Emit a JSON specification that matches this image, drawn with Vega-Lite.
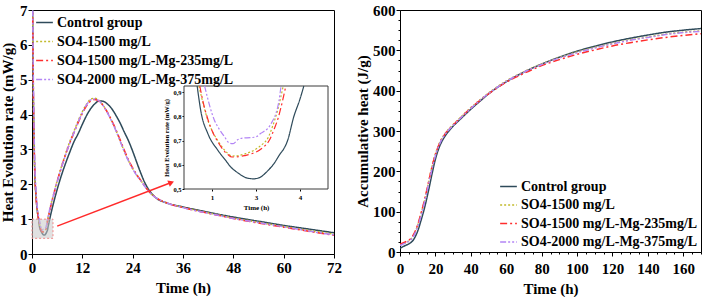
{
  "$schema": "https://vega.github.io/schema/vega-lite/v6.json",
  "padding": {"left": 0, "top": 2, "right": 0, "bottom": 0},
  "config": {
    "font": "Liberation Serif",
    "view": {"stroke": "black", "strokeWidth": 1},
    "axis": {
      "labelFont": "Liberation Serif", "titleFont": "Liberation Serif",
      "labelFontWeight": "bold", "titleFontWeight": "bold",
      "labelFontSize": 15, "titleFontSize": 15,
      "labelColor": "black", "titleColor": "black",
      "domainColor": "black", "tickColor": "black", "grid": false
    },
    "legend": {
      "labelFont": "Liberation Serif", "labelFontWeight": "bold", "labelFontSize": 14,
      "labelColor": "black", "labelLimit": 400, "symbolType": "stroke", "symbolSize": 280,
      "symbolStrokeWidth": 1.5, "rowPadding": 2, "labelOffset": 3, "padding": 0
    }
  },
  "datasets": {
    "rate": [
      {"s":"Control group","t":0,"v":9.5},{"s":"Control group","t":0.3,"v":4.8},{"s":"Control group","t":0.6,"v":2.6},{"s":"Control group","t":1.0,"v":1.6},{"s":"Control group","t":1.3,"v":1.2},{"s":"Control group","t":1.5,"v":1.05},{"s":"Control group","t":1.66,"v":0.925},{"s":"Control group","t":1.75,"v":0.815},{"s":"Control group","t":1.9,"v":0.73},{"s":"Control group","t":2.13,"v":0.66},{"s":"Control group","t":2.3,"v":0.62},{"s":"Control group","t":2.43,"v":0.59},{"s":"Control group","t":2.6,"v":0.565},{"s":"Control group","t":2.8,"v":0.545},{"s":"Control group","t":2.95,"v":0.542},{"s":"Control group","t":3.11,"v":0.55},{"s":"Control group","t":3.25,"v":0.572},{"s":"Control group","t":3.41,"v":0.605},{"s":"Control group","t":3.55,"v":0.645},{"s":"Control group","t":3.64,"v":0.668},{"s":"Control group","t":3.72,"v":0.7},{"s":"Control group","t":3.86,"v":0.798},{"s":"Control group","t":4.0,"v":0.87},{"s":"Control group","t":4.09,"v":0.925},{"s":"Control group","t":4.5,"v":1.15},{"s":"Control group","t":5,"v":1.4},{"s":"Control group","t":6,"v":1.85},{"s":"Control group","t":7,"v":2.25},{"s":"Control group","t":8,"v":2.6},{"s":"Control group","t":9,"v":2.92},{"s":"Control group","t":10,"v":3.22},{"s":"Control group","t":11,"v":3.45},{"s":"Control group","t":12,"v":3.72},{"s":"Control group","t":13,"v":3.97},{"s":"Control group","t":14,"v":4.17},{"s":"Control group","t":15,"v":4.31},{"s":"Control group","t":16,"v":4.39},{"s":"Control group","t":17,"v":4.38},{"s":"Control group","t":18,"v":4.3},{"s":"Control group","t":19,"v":4.17},{"s":"Control group","t":20,"v":3.98},{"s":"Control group","t":21,"v":3.76},{"s":"Control group","t":22,"v":3.5},{"s":"Control group","t":23,"v":3.25},{"s":"Control group","t":24,"v":2.95},{"s":"Control group","t":25,"v":2.62},{"s":"Control group","t":26,"v":2.3},{"s":"Control group","t":27,"v":2.02},{"s":"Control group","t":28,"v":1.82},{"s":"Control group","t":29,"v":1.67},{"s":"Control group","t":30,"v":1.57},{"s":"Control group","t":32,"v":1.47},{"s":"Control group","t":36,"v":1.35},{"s":"Control group","t":40,"v":1.25},{"s":"Control group","t":44,"v":1.15},{"s":"Control group","t":48,"v":1.06},{"s":"Control group","t":52,"v":0.98},{"s":"Control group","t":56,"v":0.9},{"s":"Control group","t":60,"v":0.82},{"s":"Control group","t":64,"v":0.75},{"s":"Control group","t":68,"v":0.68},{"s":"Control group","t":72,"v":0.61},
      {"s":"SO4-1500 mg/L","t":0,"v":9.0},{"s":"SO4-1500 mg/L","t":0.3,"v":4.6},{"s":"SO4-1500 mg/L","t":0.6,"v":2.5},{"s":"SO4-1500 mg/L","t":1.0,"v":1.55},{"s":"SO4-1500 mg/L","t":1.3,"v":1.2},{"s":"SO4-1500 mg/L","t":1.5,"v":1.04},{"s":"SO4-1500 mg/L","t":1.7,"v":0.925},{"s":"SO4-1500 mg/L","t":1.8,"v":0.85},{"s":"SO4-1500 mg/L","t":1.9,"v":0.785},{"s":"SO4-1500 mg/L","t":2.0,"v":0.74},{"s":"SO4-1500 mg/L","t":2.13,"v":0.7},{"s":"SO4-1500 mg/L","t":2.25,"v":0.668},{"s":"SO4-1500 mg/L","t":2.36,"v":0.647},{"s":"SO4-1500 mg/L","t":2.45,"v":0.636},{"s":"SO4-1500 mg/L","t":2.6,"v":0.638},{"s":"SO4-1500 mg/L","t":2.75,"v":0.645},{"s":"SO4-1500 mg/L","t":2.89,"v":0.654},{"s":"SO4-1500 mg/L","t":3.0,"v":0.665},{"s":"SO4-1500 mg/L","t":3.15,"v":0.685},{"s":"SO4-1500 mg/L","t":3.27,"v":0.71},{"s":"SO4-1500 mg/L","t":3.38,"v":0.76},{"s":"SO4-1500 mg/L","t":3.5,"v":0.83},{"s":"SO4-1500 mg/L","t":3.62,"v":0.925},{"s":"SO4-1500 mg/L","t":3.7,"v":0.97},{"s":"SO4-1500 mg/L","t":4.0,"v":1.15},{"s":"SO4-1500 mg/L","t":4.5,"v":1.42},{"s":"SO4-1500 mg/L","t":5,"v":1.65},{"s":"SO4-1500 mg/L","t":6,"v":2.1},{"s":"SO4-1500 mg/L","t":7,"v":2.5},{"s":"SO4-1500 mg/L","t":8,"v":2.88},{"s":"SO4-1500 mg/L","t":9,"v":3.22},{"s":"SO4-1500 mg/L","t":10,"v":3.52},{"s":"SO4-1500 mg/L","t":11,"v":3.82},{"s":"SO4-1500 mg/L","t":12,"v":4.08},{"s":"SO4-1500 mg/L","t":13,"v":4.3},{"s":"SO4-1500 mg/L","t":14,"v":4.44},{"s":"SO4-1500 mg/L","t":15,"v":4.47},{"s":"SO4-1500 mg/L","t":16,"v":4.4},{"s":"SO4-1500 mg/L","t":17,"v":4.26},{"s":"SO4-1500 mg/L","t":18,"v":4.06},{"s":"SO4-1500 mg/L","t":19,"v":3.82},{"s":"SO4-1500 mg/L","t":20,"v":3.55},{"s":"SO4-1500 mg/L","t":21,"v":3.25},{"s":"SO4-1500 mg/L","t":22,"v":2.95},{"s":"SO4-1500 mg/L","t":23,"v":2.68},{"s":"SO4-1500 mg/L","t":24,"v":2.45},{"s":"SO4-1500 mg/L","t":25,"v":2.26},{"s":"SO4-1500 mg/L","t":26,"v":2.1},{"s":"SO4-1500 mg/L","t":27,"v":1.93},{"s":"SO4-1500 mg/L","t":28,"v":1.78},{"s":"SO4-1500 mg/L","t":29,"v":1.66},{"s":"SO4-1500 mg/L","t":30,"v":1.58},{"s":"SO4-1500 mg/L","t":32,"v":1.47},{"s":"SO4-1500 mg/L","t":36,"v":1.34},{"s":"SO4-1500 mg/L","t":40,"v":1.23},{"s":"SO4-1500 mg/L","t":44,"v":1.13},{"s":"SO4-1500 mg/L","t":48,"v":1.03},{"s":"SO4-1500 mg/L","t":52,"v":0.95},{"s":"SO4-1500 mg/L","t":56,"v":0.87},{"s":"SO4-1500 mg/L","t":60,"v":0.79},{"s":"SO4-1500 mg/L","t":64,"v":0.71},{"s":"SO4-1500 mg/L","t":68,"v":0.64},{"s":"SO4-1500 mg/L","t":72,"v":0.57},
      {"s":"SO4-1500 mg/L-Mg-235mg/L","t":0,"v":9.8},{"s":"SO4-1500 mg/L-Mg-235mg/L","t":0.3,"v":5.0},{"s":"SO4-1500 mg/L-Mg-235mg/L","t":0.6,"v":2.7},{"s":"SO4-1500 mg/L-Mg-235mg/L","t":1.0,"v":1.6},{"s":"SO4-1500 mg/L-Mg-235mg/L","t":1.3,"v":1.22},{"s":"SO4-1500 mg/L-Mg-235mg/L","t":1.5,"v":1.05},{"s":"SO4-1500 mg/L-Mg-235mg/L","t":1.72,"v":0.925},{"s":"SO4-1500 mg/L-Mg-235mg/L","t":1.8,"v":0.855},{"s":"SO4-1500 mg/L-Mg-235mg/L","t":1.9,"v":0.79},{"s":"SO4-1500 mg/L-Mg-235mg/L","t":2.0,"v":0.74},{"s":"SO4-1500 mg/L-Mg-235mg/L","t":2.13,"v":0.695},{"s":"SO4-1500 mg/L-Mg-235mg/L","t":2.25,"v":0.662},{"s":"SO4-1500 mg/L-Mg-235mg/L","t":2.36,"v":0.642},{"s":"SO4-1500 mg/L-Mg-235mg/L","t":2.45,"v":0.632},{"s":"SO4-1500 mg/L-Mg-235mg/L","t":2.6,"v":0.633},{"s":"SO4-1500 mg/L-Mg-235mg/L","t":2.75,"v":0.638},{"s":"SO4-1500 mg/L-Mg-235mg/L","t":2.89,"v":0.645},{"s":"SO4-1500 mg/L-Mg-235mg/L","t":3.0,"v":0.652},{"s":"SO4-1500 mg/L-Mg-235mg/L","t":3.15,"v":0.67},{"s":"SO4-1500 mg/L-Mg-235mg/L","t":3.3,"v":0.7},{"s":"SO4-1500 mg/L-Mg-235mg/L","t":3.42,"v":0.75},{"s":"SO4-1500 mg/L-Mg-235mg/L","t":3.5,"v":0.79},{"s":"SO4-1500 mg/L-Mg-235mg/L","t":3.6,"v":0.86},{"s":"SO4-1500 mg/L-Mg-235mg/L","t":3.68,"v":0.925},{"s":"SO4-1500 mg/L-Mg-235mg/L","t":4.0,"v":1.1},{"s":"SO4-1500 mg/L-Mg-235mg/L","t":4.5,"v":1.38},{"s":"SO4-1500 mg/L-Mg-235mg/L","t":5,"v":1.62},{"s":"SO4-1500 mg/L-Mg-235mg/L","t":6,"v":2.08},{"s":"SO4-1500 mg/L-Mg-235mg/L","t":7,"v":2.48},{"s":"SO4-1500 mg/L-Mg-235mg/L","t":8,"v":2.85},{"s":"SO4-1500 mg/L-Mg-235mg/L","t":9,"v":3.18},{"s":"SO4-1500 mg/L-Mg-235mg/L","t":10,"v":3.48},{"s":"SO4-1500 mg/L-Mg-235mg/L","t":11,"v":3.77},{"s":"SO4-1500 mg/L-Mg-235mg/L","t":12,"v":4.03},{"s":"SO4-1500 mg/L-Mg-235mg/L","t":13,"v":4.25},{"s":"SO4-1500 mg/L-Mg-235mg/L","t":14,"v":4.39},{"s":"SO4-1500 mg/L-Mg-235mg/L","t":15,"v":4.43},{"s":"SO4-1500 mg/L-Mg-235mg/L","t":16,"v":4.38},{"s":"SO4-1500 mg/L-Mg-235mg/L","t":17,"v":4.25},{"s":"SO4-1500 mg/L-Mg-235mg/L","t":18,"v":4.06},{"s":"SO4-1500 mg/L-Mg-235mg/L","t":19,"v":3.83},{"s":"SO4-1500 mg/L-Mg-235mg/L","t":20,"v":3.57},{"s":"SO4-1500 mg/L-Mg-235mg/L","t":21,"v":3.28},{"s":"SO4-1500 mg/L-Mg-235mg/L","t":22,"v":2.98},{"s":"SO4-1500 mg/L-Mg-235mg/L","t":23,"v":2.7},{"s":"SO4-1500 mg/L-Mg-235mg/L","t":24,"v":2.47},{"s":"SO4-1500 mg/L-Mg-235mg/L","t":25,"v":2.27},{"s":"SO4-1500 mg/L-Mg-235mg/L","t":26,"v":2.1},{"s":"SO4-1500 mg/L-Mg-235mg/L","t":27,"v":1.93},{"s":"SO4-1500 mg/L-Mg-235mg/L","t":28,"v":1.78},{"s":"SO4-1500 mg/L-Mg-235mg/L","t":29,"v":1.67},{"s":"SO4-1500 mg/L-Mg-235mg/L","t":30,"v":1.58},{"s":"SO4-1500 mg/L-Mg-235mg/L","t":32,"v":1.47},{"s":"SO4-1500 mg/L-Mg-235mg/L","t":36,"v":1.33},{"s":"SO4-1500 mg/L-Mg-235mg/L","t":40,"v":1.22},{"s":"SO4-1500 mg/L-Mg-235mg/L","t":44,"v":1.12},{"s":"SO4-1500 mg/L-Mg-235mg/L","t":48,"v":1.02},{"s":"SO4-1500 mg/L-Mg-235mg/L","t":52,"v":0.93},{"s":"SO4-1500 mg/L-Mg-235mg/L","t":56,"v":0.85},{"s":"SO4-1500 mg/L-Mg-235mg/L","t":60,"v":0.77},{"s":"SO4-1500 mg/L-Mg-235mg/L","t":64,"v":0.69},{"s":"SO4-1500 mg/L-Mg-235mg/L","t":68,"v":0.61},{"s":"SO4-1500 mg/L-Mg-235mg/L","t":72,"v":0.54},
      {"s":"SO4-2000 mg/L-Mg-375mg/L","t":0,"v":10.2},{"s":"SO4-2000 mg/L-Mg-375mg/L","t":0.3,"v":5.3},{"s":"SO4-2000 mg/L-Mg-375mg/L","t":0.6,"v":2.9},{"s":"SO4-2000 mg/L-Mg-375mg/L","t":1.0,"v":1.75},{"s":"SO4-2000 mg/L-Mg-375mg/L","t":1.3,"v":1.3},{"s":"SO4-2000 mg/L-Mg-375mg/L","t":1.5,"v":1.12},{"s":"SO4-2000 mg/L-Mg-375mg/L","t":1.7,"v":1.0},{"s":"SO4-2000 mg/L-Mg-375mg/L","t":1.83,"v":0.925},{"s":"SO4-2000 mg/L-Mg-375mg/L","t":1.95,"v":0.84},{"s":"SO4-2000 mg/L-Mg-375mg/L","t":2.05,"v":0.785},{"s":"SO4-2000 mg/L-Mg-375mg/L","t":2.17,"v":0.745},{"s":"SO4-2000 mg/L-Mg-375mg/L","t":2.28,"v":0.716},{"s":"SO4-2000 mg/L-Mg-375mg/L","t":2.39,"v":0.69},{"s":"SO4-2000 mg/L-Mg-375mg/L","t":2.48,"v":0.687},{"s":"SO4-2000 mg/L-Mg-375mg/L","t":2.58,"v":0.703},{"s":"SO4-2000 mg/L-Mg-375mg/L","t":2.7,"v":0.71},{"s":"SO4-2000 mg/L-Mg-375mg/L","t":2.89,"v":0.712},{"s":"SO4-2000 mg/L-Mg-375mg/L","t":3.0,"v":0.715},{"s":"SO4-2000 mg/L-Mg-375mg/L","t":3.11,"v":0.73},{"s":"SO4-2000 mg/L-Mg-375mg/L","t":3.2,"v":0.74},{"s":"SO4-2000 mg/L-Mg-375mg/L","t":3.27,"v":0.75},{"s":"SO4-2000 mg/L-Mg-375mg/L","t":3.36,"v":0.775},{"s":"SO4-2000 mg/L-Mg-375mg/L","t":3.45,"v":0.81},{"s":"SO4-2000 mg/L-Mg-375mg/L","t":3.52,"v":0.86},{"s":"SO4-2000 mg/L-Mg-375mg/L","t":3.57,"v":0.925},{"s":"SO4-2000 mg/L-Mg-375mg/L","t":3.7,"v":1.0},{"s":"SO4-2000 mg/L-Mg-375mg/L","t":4.0,"v":1.16},{"s":"SO4-2000 mg/L-Mg-375mg/L","t":4.5,"v":1.42},{"s":"SO4-2000 mg/L-Mg-375mg/L","t":5,"v":1.64},{"s":"SO4-2000 mg/L-Mg-375mg/L","t":6,"v":2.07},{"s":"SO4-2000 mg/L-Mg-375mg/L","t":7,"v":2.47},{"s":"SO4-2000 mg/L-Mg-375mg/L","t":8,"v":2.84},{"s":"SO4-2000 mg/L-Mg-375mg/L","t":9,"v":3.18},{"s":"SO4-2000 mg/L-Mg-375mg/L","t":10,"v":3.48},{"s":"SO4-2000 mg/L-Mg-375mg/L","t":11,"v":3.78},{"s":"SO4-2000 mg/L-Mg-375mg/L","t":12,"v":4.05},{"s":"SO4-2000 mg/L-Mg-375mg/L","t":13,"v":4.28},{"s":"SO4-2000 mg/L-Mg-375mg/L","t":14,"v":4.42},{"s":"SO4-2000 mg/L-Mg-375mg/L","t":15,"v":4.45},{"s":"SO4-2000 mg/L-Mg-375mg/L","t":16,"v":4.39},{"s":"SO4-2000 mg/L-Mg-375mg/L","t":17,"v":4.25},{"s":"SO4-2000 mg/L-Mg-375mg/L","t":18,"v":4.05},{"s":"SO4-2000 mg/L-Mg-375mg/L","t":19,"v":3.81},{"s":"SO4-2000 mg/L-Mg-375mg/L","t":20,"v":3.54},{"s":"SO4-2000 mg/L-Mg-375mg/L","t":21,"v":3.24},{"s":"SO4-2000 mg/L-Mg-375mg/L","t":22,"v":2.94},{"s":"SO4-2000 mg/L-Mg-375mg/L","t":23,"v":2.67},{"s":"SO4-2000 mg/L-Mg-375mg/L","t":24,"v":2.44},{"s":"SO4-2000 mg/L-Mg-375mg/L","t":25,"v":2.25},{"s":"SO4-2000 mg/L-Mg-375mg/L","t":26,"v":2.09},{"s":"SO4-2000 mg/L-Mg-375mg/L","t":27,"v":1.92},{"s":"SO4-2000 mg/L-Mg-375mg/L","t":28,"v":1.77},{"s":"SO4-2000 mg/L-Mg-375mg/L","t":29,"v":1.66},{"s":"SO4-2000 mg/L-Mg-375mg/L","t":30,"v":1.58},{"s":"SO4-2000 mg/L-Mg-375mg/L","t":32,"v":1.47},{"s":"SO4-2000 mg/L-Mg-375mg/L","t":36,"v":1.33},{"s":"SO4-2000 mg/L-Mg-375mg/L","t":40,"v":1.22},{"s":"SO4-2000 mg/L-Mg-375mg/L","t":44,"v":1.12},{"s":"SO4-2000 mg/L-Mg-375mg/L","t":48,"v":1.02},{"s":"SO4-2000 mg/L-Mg-375mg/L","t":52,"v":0.94},{"s":"SO4-2000 mg/L-Mg-375mg/L","t":56,"v":0.86},{"s":"SO4-2000 mg/L-Mg-375mg/L","t":60,"v":0.78},{"s":"SO4-2000 mg/L-Mg-375mg/L","t":64,"v":0.7},{"s":"SO4-2000 mg/L-Mg-375mg/L","t":68,"v":0.62},{"s":"SO4-2000 mg/L-Mg-375mg/L","t":72,"v":0.55}
    ],
    "heat": [
      {"s":"Control group","t":0,"q":9},{"s":"Control group","t":2,"q":14},{"s":"Control group","t":4,"q":18},{"s":"Control group","t":6,"q":23},{"s":"Control group","t":8,"q":33},{"s":"Control group","t":10,"q":52},{"s":"Control group","t":12,"q":80},{"s":"Control group","t":14,"q":112},{"s":"Control group","t":16,"q":150},{"s":"Control group","t":18,"q":192},{"s":"Control group","t":20,"q":230},{"s":"Control group","t":22,"q":258},{"s":"Control group","t":24,"q":277},{"s":"Control group","t":26,"q":291},{"s":"Control group","t":28,"q":302},{"s":"Control group","t":30,"q":312},{"s":"Control group","t":34,"q":329},{"s":"Control group","t":40,"q":354},{"s":"Control group","t":46,"q":377},{"s":"Control group","t":50,"q":392},{"s":"Control group","t":60,"q":422},{"s":"Control group","t":70,"q":446},{"s":"Control group","t":80,"q":466},{"s":"Control group","t":90,"q":483},{"s":"Control group","t":100,"q":498},{"s":"Control group","t":110,"q":510},{"s":"Control group","t":120,"q":521},{"s":"Control group","t":130,"q":530},{"s":"Control group","t":140,"q":538},{"s":"Control group","t":150,"q":545},{"s":"Control group","t":160,"q":550},{"s":"Control group","t":170,"q":554},
      {"s":"SO4-1500 mg/L","t":0,"q":17},{"s":"SO4-1500 mg/L","t":2,"q":21},{"s":"SO4-1500 mg/L","t":4,"q":25},{"s":"SO4-1500 mg/L","t":6,"q":31},{"s":"SO4-1500 mg/L","t":8,"q":44},{"s":"SO4-1500 mg/L","t":10,"q":66},{"s":"SO4-1500 mg/L","t":12,"q":96},{"s":"SO4-1500 mg/L","t":14,"q":130},{"s":"SO4-1500 mg/L","t":16,"q":170},{"s":"SO4-1500 mg/L","t":18,"q":210},{"s":"SO4-1500 mg/L","t":20,"q":243},{"s":"SO4-1500 mg/L","t":22,"q":267},{"s":"SO4-1500 mg/L","t":24,"q":284},{"s":"SO4-1500 mg/L","t":26,"q":297},{"s":"SO4-1500 mg/L","t":28,"q":307},{"s":"SO4-1500 mg/L","t":30,"q":316},{"s":"SO4-1500 mg/L","t":34,"q":333},{"s":"SO4-1500 mg/L","t":40,"q":358},{"s":"SO4-1500 mg/L","t":46,"q":380},{"s":"SO4-1500 mg/L","t":50,"q":394},{"s":"SO4-1500 mg/L","t":60,"q":424},{"s":"SO4-1500 mg/L","t":70,"q":447},{"s":"SO4-1500 mg/L","t":80,"q":466},{"s":"SO4-1500 mg/L","t":90,"q":482},{"s":"SO4-1500 mg/L","t":100,"q":496},{"s":"SO4-1500 mg/L","t":110,"q":507},{"s":"SO4-1500 mg/L","t":120,"q":517},{"s":"SO4-1500 mg/L","t":130,"q":526},{"s":"SO4-1500 mg/L","t":140,"q":533},{"s":"SO4-1500 mg/L","t":150,"q":540},{"s":"SO4-1500 mg/L","t":160,"q":545},{"s":"SO4-1500 mg/L","t":170,"q":548},
      {"s":"SO4-1500 mg/L-Mg-235mg/L","t":0,"q":19},{"s":"SO4-1500 mg/L-Mg-235mg/L","t":2,"q":23},{"s":"SO4-1500 mg/L-Mg-235mg/L","t":4,"q":27},{"s":"SO4-1500 mg/L-Mg-235mg/L","t":6,"q":33},{"s":"SO4-1500 mg/L-Mg-235mg/L","t":8,"q":46},{"s":"SO4-1500 mg/L-Mg-235mg/L","t":10,"q":68},{"s":"SO4-1500 mg/L-Mg-235mg/L","t":12,"q":98},{"s":"SO4-1500 mg/L-Mg-235mg/L","t":14,"q":132},{"s":"SO4-1500 mg/L-Mg-235mg/L","t":16,"q":171},{"s":"SO4-1500 mg/L-Mg-235mg/L","t":18,"q":210},{"s":"SO4-1500 mg/L-Mg-235mg/L","t":20,"q":242},{"s":"SO4-1500 mg/L-Mg-235mg/L","t":22,"q":266},{"s":"SO4-1500 mg/L-Mg-235mg/L","t":24,"q":283},{"s":"SO4-1500 mg/L-Mg-235mg/L","t":26,"q":296},{"s":"SO4-1500 mg/L-Mg-235mg/L","t":28,"q":306},{"s":"SO4-1500 mg/L-Mg-235mg/L","t":30,"q":315},{"s":"SO4-1500 mg/L-Mg-235mg/L","t":34,"q":332},{"s":"SO4-1500 mg/L-Mg-235mg/L","t":40,"q":357},{"s":"SO4-1500 mg/L-Mg-235mg/L","t":46,"q":379},{"s":"SO4-1500 mg/L-Mg-235mg/L","t":50,"q":392},{"s":"SO4-1500 mg/L-Mg-235mg/L","t":60,"q":421},{"s":"SO4-1500 mg/L-Mg-235mg/L","t":70,"q":443},{"s":"SO4-1500 mg/L-Mg-235mg/L","t":80,"q":462},{"s":"SO4-1500 mg/L-Mg-235mg/L","t":90,"q":477},{"s":"SO4-1500 mg/L-Mg-235mg/L","t":100,"q":490},{"s":"SO4-1500 mg/L-Mg-235mg/L","t":110,"q":501},{"s":"SO4-1500 mg/L-Mg-235mg/L","t":120,"q":511},{"s":"SO4-1500 mg/L-Mg-235mg/L","t":130,"q":519},{"s":"SO4-1500 mg/L-Mg-235mg/L","t":140,"q":526},{"s":"SO4-1500 mg/L-Mg-235mg/L","t":150,"q":532},{"s":"SO4-1500 mg/L-Mg-235mg/L","t":160,"q":537},{"s":"SO4-1500 mg/L-Mg-235mg/L","t":170,"q":541},
      {"s":"SO4-2000 mg/L-Mg-375mg/L","t":0,"q":16},{"s":"SO4-2000 mg/L-Mg-375mg/L","t":2,"q":20},{"s":"SO4-2000 mg/L-Mg-375mg/L","t":4,"q":24},{"s":"SO4-2000 mg/L-Mg-375mg/L","t":6,"q":30},{"s":"SO4-2000 mg/L-Mg-375mg/L","t":8,"q":42},{"s":"SO4-2000 mg/L-Mg-375mg/L","t":10,"q":63},{"s":"SO4-2000 mg/L-Mg-375mg/L","t":12,"q":92},{"s":"SO4-2000 mg/L-Mg-375mg/L","t":14,"q":126},{"s":"SO4-2000 mg/L-Mg-375mg/L","t":16,"q":165},{"s":"SO4-2000 mg/L-Mg-375mg/L","t":18,"q":205},{"s":"SO4-2000 mg/L-Mg-375mg/L","t":20,"q":239},{"s":"SO4-2000 mg/L-Mg-375mg/L","t":22,"q":264},{"s":"SO4-2000 mg/L-Mg-375mg/L","t":24,"q":282},{"s":"SO4-2000 mg/L-Mg-375mg/L","t":26,"q":295},{"s":"SO4-2000 mg/L-Mg-375mg/L","t":28,"q":305},{"s":"SO4-2000 mg/L-Mg-375mg/L","t":30,"q":314},{"s":"SO4-2000 mg/L-Mg-375mg/L","t":34,"q":331},{"s":"SO4-2000 mg/L-Mg-375mg/L","t":40,"q":356},{"s":"SO4-2000 mg/L-Mg-375mg/L","t":46,"q":379},{"s":"SO4-2000 mg/L-Mg-375mg/L","t":50,"q":393},{"s":"SO4-2000 mg/L-Mg-375mg/L","t":60,"q":423},{"s":"SO4-2000 mg/L-Mg-375mg/L","t":70,"q":446},{"s":"SO4-2000 mg/L-Mg-375mg/L","t":80,"q":465},{"s":"SO4-2000 mg/L-Mg-375mg/L","t":90,"q":481},{"s":"SO4-2000 mg/L-Mg-375mg/L","t":100,"q":494},{"s":"SO4-2000 mg/L-Mg-375mg/L","t":110,"q":506},{"s":"SO4-2000 mg/L-Mg-375mg/L","t":120,"q":516},{"s":"SO4-2000 mg/L-Mg-375mg/L","t":130,"q":525},{"s":"SO4-2000 mg/L-Mg-375mg/L","t":140,"q":532},{"s":"SO4-2000 mg/L-Mg-375mg/L","t":150,"q":539},{"s":"SO4-2000 mg/L-Mg-375mg/L","t":160,"q":544},{"s":"SO4-2000 mg/L-Mg-375mg/L","t":170,"q":547}
    ]
  },
  "spacing": 13,
  "resolve": {"legend": {"color": "independent", "strokeDash": "independent"}},
  "hconcat": [
    {
      "width": 302,
      "height": 244,
      "resolve": {
        "scale": {"x": "independent", "y": "independent"},
        "axis": {"x": "independent", "y": "independent"}
      },
      "layer": [
        {
          "layer": [
            {
              "data": {"name": "rate"},
              "mark": {"type": "line", "clip": true, "strokeWidth": 1.5, "interpolate": "monotone"},
              "encoding": {
                "x": {
                  "field": "t", "type": "quantitative",
                  "scale": {"domain": [0, 72], "nice": false, "zero": false},
                  "axis": {
                    "title": "Time (h)",
                    "values": [0,3,6,9,12,15,18,21,24,27,30,33,36,39,42,45,48,51,54,57,60,63,66,69,72],
                    "labelExpr": "datum.value % 12 === 0 ? datum.label : ''",
                    "labelFlush": false,
                    "tickSize": {"condition": {"test": "datum.value % 12 === 0", "value": 4}, "value": 2},
                    "labelPadding": 2, "titlePadding": 5
                  }
                },
                "y": {
                  "field": "v", "type": "quantitative",
                  "scale": {"domain": [0, 7], "nice": false, "zero": false},
                  "axis": {
                    "title": "Heat Evolution rate (mW/g)",
                    "values": [0, 1, 2, 3, 4, 5, 6, 7],
                    "tickCount": 8,
                    "labelOverlap": false, "labelBound": false,
                    "tickSize": 4, "labelPadding": 1, "titlePadding": 4
                  }
                },
                "color": {
                  "field": "s", "type": "nominal",
                  "scale": {
                    "domain": ["Control group", "SO4-1500 mg/L", "SO4-1500 mg/L-Mg-235mg/L", "SO4-2000 mg/L-Mg-375mg/L"],
                    "range": ["#2e4a5a", "#c2bb2c", "#ff2d2d", "#b385f5"]
                  },
                  "legend": {"title": null, "orient": "top-left", "offset": 3}
                },
                "strokeDash": {
                  "field": "s", "type": "nominal",
                  "scale": {
                    "domain": ["Control group", "SO4-1500 mg/L", "SO4-1500 mg/L-Mg-235mg/L", "SO4-2000 mg/L-Mg-375mg/L"],
                    "range": [[1, 0], [2, 2], [7, 3, 2, 3], [6, 2, 2, 2, 2, 2]]
                  },
                  "legend": {"title": null, "orient": "top-left", "offset": 3}
                }
              }
            },
            {
              "data": {"values": [{}]},
              "mark": {"type": "rect", "fill": "#c8c8c8", "fillOpacity": 0.55, "stroke": "#f08a8a", "strokeDash": [2, 2], "strokeWidth": 1},
              "encoding": {
                "x": {"datum": 0, "type": "quantitative"},
                "x2": {"datum": 5},
                "y": {"datum": 0.45, "type": "quantitative"},
                "y2": {"datum": 1.0}
              }
            },
            {
              "data": {"values": [{}]},
              "mark": {"type": "rule", "color": "#ff2a2a", "strokeWidth": 1.5},
              "encoding": {
                "x": {"datum": 6.0, "type": "quantitative"},
                "y": {"datum": 0.8, "type": "quantitative"},
                "x2": {"datum": 33.2},
                "y2": {"datum": 2.05}
              }
            },
            {
              "data": {"values": [{}]},
              "mark": {"type": "point", "shape": "triangle-right", "filled": true, "color": "#ff2a2a", "opacity": 1, "size": 45, "angle": -22},
              "encoding": {
                "x": {"datum": 33.2, "type": "quantitative"},
                "y": {"datum": 2.05, "type": "quantitative"}
              }
            }
          ]
        },
        {
          "layer": [
            {
              "data": {"values": [{}]},
              "mark": {"type": "rect", "fill": "white", "stroke": "#3a3a3a", "strokeWidth": 1},
              "encoding": {
                "x": {
                  "datum": 1.36, "type": "quantitative",
                  "scale": {"domain": [1.36, 4.64], "range": [152, 296], "nice": false, "zero": false},
                  "axis": {
                    "orient": "bottom", "offset": -65, "title": "Time (h)",
                    "values": [2, 3, 4],
                    "labelExpr": "datum.value === 2 ? '1' : format(datum.value, 'd')",
                    "labelFontSize": 7, "titleFontSize": 7, "tickSize": 2,
                    "labelPadding": 2, "titlePadding": 3, "domain": false
                  }
                },
                "x2": {"datum": 4.64},
                "y": {
                  "datum": 0.5, "type": "quantitative",
                  "scale": {"domain": [0.5, 0.925], "range": [179, 76], "nice": false, "zero": false},
                  "axis": {
                    "orient": "left", "offset": -152, "title": "Heat Evolution rate (mW/g)",
                    "values": [0.5, 0.6, 0.7, 0.8, 0.9],
                    "labelExpr": "replace(format(datum.value, '.1f'), '.', ',')",
                    "labelFontSize": 6.5, "titleFontSize": 6.5, "tickSize": 2,
                    "labelPadding": 1, "titlePadding": 3, "domain": false
                  }
                },
                "y2": {"datum": 0.925}
              }
            },
            {
              "data": {"name": "rate"},
              "transform": [{"filter": "datum.t >= 1.36 && datum.t <= 4.64 && datum.v <= 0.93"}],
              "mark": {"type": "line", "strokeWidth": 1.2, "interpolate": "monotone"},
              "encoding": {
                "x": {"field": "t", "type": "quantitative", "axis": {"title": "Time (h)"}},
                "y": {"field": "v", "type": "quantitative", "axis": {"title": "Heat Evolution rate (mW/g)"}},
                "color": {"field": "s", "type": "nominal", "legend": {"title": null, "orient": "top-left", "offset": 3}},
                "strokeDash": {"field": "s", "type": "nominal", "legend": {"title": null, "orient": "top-left", "offset": 3}}
              }
            }
          ]
        }
      ]
    },
    {
      "width": 301,
      "height": 242,
      "data": {"name": "heat"},
      "mark": {"type": "line", "clip": true, "strokeWidth": 1.5, "interpolate": "monotone"},
      "encoding": {
        "x": {
          "field": "t", "type": "quantitative",
          "scale": {"domain": [0, 170], "nice": false, "zero": false},
          "axis": {
            "title": "Time (h)",
            "values": [0,5,10,15,20,25,30,35,40,45,50,55,60,65,70,75,80,85,90,95,100,105,110,115,120,125,130,135,140,145,150,155,160,165,170],
            "labelExpr": "datum.value % 20 === 0 ? datum.label : ''",
            "labelFlush": false,
            "tickSize": {"condition": {"test": "datum.value % 20 === 0", "value": 4}, "value": 2},
            "labelPadding": 5, "titlePadding": 5
          }
        },
        "y": {
          "field": "q", "type": "quantitative",
          "scale": {"domain": [0, 600], "nice": false},
          "axis": {
            "title": "Accumulative heat (J/g)",
            "values": [0,25,50,75,100,125,150,175,200,225,250,275,300,325,350,375,400,425,450,475,500,525,550,575,600],
            "labelExpr": "datum.value % 100 === 0 ? datum.label : ''",
            "tickSize": {"condition": {"test": "datum.value % 100 === 0", "value": 4}, "value": 2},
            "labelPadding": 1, "titlePadding": 2
          }
        },
        "color": {
          "field": "s", "type": "nominal",
          "scale": {
            "domain": ["Control group", "SO4-1500 mg/L", "SO4-1500 mg/L-Mg-235mg/L", "SO4-2000 mg/L-Mg-375mg/L"],
            "range": ["#2e4a5a", "#c2bb2c", "#ff2d2d", "#b385f5"]
          },
          "legend": {"title": null, "orient": "bottom-right", "offset": 3, "rowPadding": 1.5}
        },
        "strokeDash": {
          "field": "s", "type": "nominal",
          "scale": {
            "domain": ["Control group", "SO4-1500 mg/L", "SO4-1500 mg/L-Mg-235mg/L", "SO4-2000 mg/L-Mg-375mg/L"],
            "range": [[1, 0], [2, 2], [7, 3, 2, 3], [6, 2, 2, 2, 2, 2]]
          },
          "legend": {"title": null, "orient": "bottom-right", "offset": 3, "rowPadding": 1.5}
        }
      }
    }
  ]
}
